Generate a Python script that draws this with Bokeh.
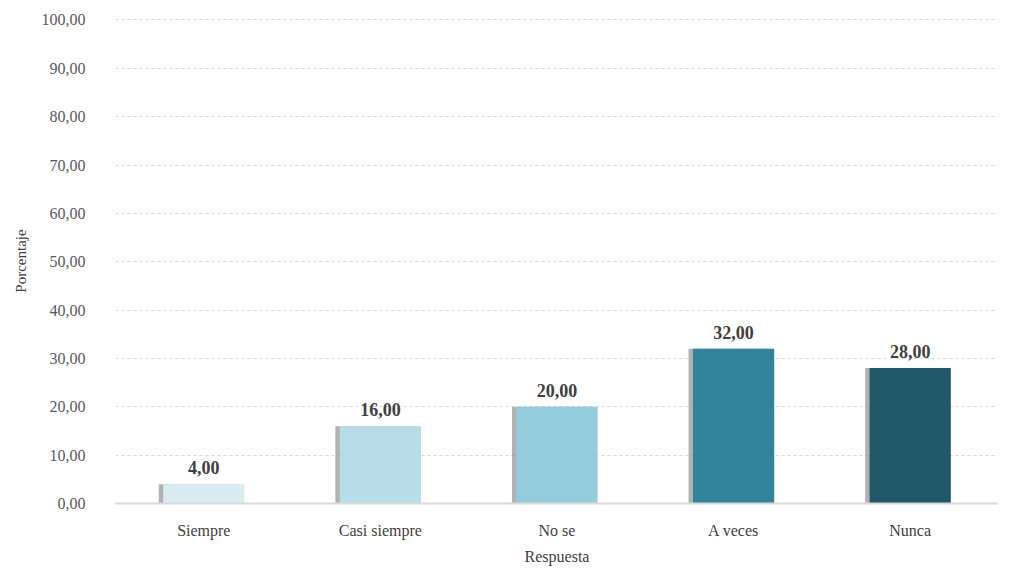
from bokeh.plotting import figure
from bokeh.models import ColumnDataSource, CustomJSTickFormatter, FixedTicker, Range1d
from bokeh.transform import dodge
from bokeh.core.properties import value
from bokeh.embed import file_html
from bokeh.resources import INLINE

categories = ["Siempre", "Casi siempre", "No se", "A veces", "Nunca"]
values = [4.00, 16.00, 20.00, 32.00, 28.00]
colors = ["#d9ecf2", "#b7dde8", "#93cddd", "#31849b", "#215968"]
labels = [f"{v:.2f}".replace(".", ",") for v in values]
y_ticks = [0, 10, 20, 30, 40, 50, 60, 70, 80, 90, 100]

src = ColumnDataSource(dict(cat=categories, val=values, col=colors, lab=labels))

p = figure(x_range=categories, y_range=Range1d(0, 100.3), width=998, height=567,
           output_backend="svg", toolbar_location=None,
           min_border_left=115, min_border_right=0, min_border_top=18, min_border_bottom=0)
p.outline_line_color = None
p.background_fill_color = "white"

# shadow
p.vbar(x=dodge("cat", -0.025, range=p.x_range), top="val", width=0.46, source=src,
       fill_color="#7f7f7f", fill_alpha=0.6, line_color=None)
p.vbar(x="cat", top="val", width=0.46, source=src, fill_color="col", line_color=None)

p.text(x="cat", y="val", text="lab", source=src, text_align="center", text_baseline="bottom",
       y_offset=-10, text_font=value("Liberation Serif"), text_font_style="bold",
       text_font_size="18px", text_color="#404040")

p.yaxis.ticker = FixedTicker(ticks=y_ticks)
p.yaxis.formatter = CustomJSTickFormatter(code="return tick.toFixed(2).replace('.', ',');")
p.yaxis.axis_line_color = None
p.yaxis.major_tick_line_color = None
p.yaxis.minor_tick_line_color = None
p.yaxis.major_label_text_font = "Liberation Serif"
p.yaxis.major_label_text_font_size = "16px"
p.yaxis.major_label_text_color = "#595959"
p.yaxis.major_label_standoff = 24
p.yaxis.axis_label = "Porcentaje"
p.yaxis.axis_label_text_font = "Liberation Serif"
p.yaxis.axis_label_text_font_style = "normal"
p.yaxis.axis_label_text_font_size = "15px"
p.yaxis.axis_label_text_color = "#404040"
p.yaxis.axis_label_standoff = 10

p.xaxis.axis_line_color = "#d9d9d9"
p.xaxis.axis_line_width = 2
p.xaxis.major_tick_line_color = None
p.xaxis.minor_tick_line_color = None
p.xaxis.major_label_text_font = "Liberation Serif"
p.xaxis.major_label_text_font_size = "16px"
p.xaxis.major_label_text_color = "#404040"
p.xaxis.major_label_standoff = 12
p.xaxis.axis_label = "Respuesta"
p.xaxis.axis_label_text_font = "Liberation Serif"
p.xaxis.axis_label_text_font_style = "normal"
p.xaxis.axis_label_text_font_size = "16px"
p.xaxis.axis_label_text_color = "#404040"
p.xaxis.axis_label_standoff = 6

p.xgrid.grid_line_color = None
p.ygrid.grid_line_color = "#d9d9d9"
p.ygrid.grid_line_dash = "3 3"
p.ygrid.grid_line_width = 1

open("out.html", "w").write(file_html(p, INLINE))
